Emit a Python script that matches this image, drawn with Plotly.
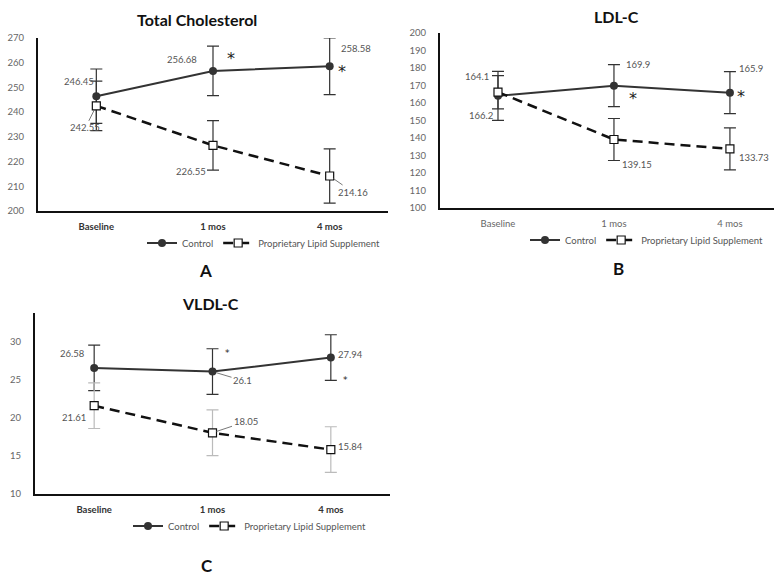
import plotly.graph_objects as go

# ---------------- data ----------------
categories = ["Baseline", "1 mos", "4 mos"]

tc_control = [246.45, 256.68, 258.58]
tc_control_err = [11, 10, 11.5]
tc_supp = [242.55, 226.55, 214.16]
tc_supp_err = [10, 10, 11]

ldl_control = [164.1, 169.9, 165.9]
ldl_control_err = [14, 12, 12]
ldl_supp = [166.2, 139.15, 133.73]
ldl_supp_err = [9.5, 12, 12]

vldl_control = [26.58, 26.1, 27.94]
vldl_control_err = [3, 3, 3]
vldl_supp = [21.61, 18.05, 15.84]
vldl_supp_err = [3, 3, 3]

series_names = ["Control", "Proprietary Lipid Supplement"]
panel_titles = ["Total Cholesterol", "LDL-C", "VLDL-C"]
panel_letters = ["A", "B", "C"]

W, H = 774, 576
FONT = "Lato"
DARK = "#333333"

fig = go.Figure()

panels = [
    ("", "legend", tc_control, tc_control_err, tc_supp, tc_supp_err, "#333333"),
    ("2", "legend2", ldl_control, ldl_control_err, ldl_supp, ldl_supp_err, "#333333"),
    ("3", "legend3", vldl_control, vldl_control_err, vldl_supp, vldl_supp_err, "#bbbbbb"),
]

for suf, leg, c, ce, s, se, supp_err_color in panels:
    fig.add_trace(go.Scatter(
        x=categories, y=c, name=series_names[0], mode="lines+markers",
        xaxis="x" + suf, yaxis="y" + suf, legend=leg,
        line=dict(color=DARK, width=2),
        marker=dict(symbol="circle", size=8, color=DARK),
        error_y=dict(type="data", array=ce, visible=True, color=DARK, thickness=1.2, width=6),
    ))
    fig.add_trace(go.Scatter(
        x=categories, y=s, name=series_names[1], mode="lines+markers",
        xaxis="x" + suf, yaxis="y" + suf, legend=leg,
        line=dict(color="#111111", width=2.5, dash="10px,6px"),
        marker=dict(symbol="square", size=8, color="white", line=dict(color="#111111", width=1.2)),
        error_y=dict(type="data", array=se, visible=True, color=supp_err_color, thickness=1.2, width=6),
    ))

def px_x(p):
    return p / W

def px_y(p):
    return 1 - p / H

axis_common = dict(showline=True, linecolor="#111111", linewidth=2, showgrid=False,
                   zeroline=False, ticks="")
tick_y = dict(size=9.5, color="#666", family=FONT)

layout = dict(
    width=W, height=H, margin=dict(l=0, r=0, t=0, b=0, autoexpand=False),
    paper_bgcolor="white", plot_bgcolor="white",
    font=dict(family=FONT, color=DARK),
    xaxis=dict(domain=[px_x(38), px_x(388)], anchor="y", type="category", range=[-0.5, 2.5],
               tickfont=dict(size=9.5, color="#333", family=FONT, weight="bold"),
               ticklabelstandoff=6, **axis_common),
    yaxis=dict(domain=[px_y(211), px_y(38)], anchor="x", range=[200, 270], dtick=10,
               tickfont=tick_y, ticklabelstandoff=10, **axis_common),
    xaxis2=dict(domain=[px_x(440), 1.0], anchor="y2", type="category", range=[-0.5, 2.38],
                tickfont=dict(size=9.5, color="#666", family=FONT), ticklabelstandoff=6,
                **axis_common),
    yaxis2=dict(domain=[px_y(208), px_y(33)], anchor="x2", range=[100, 200], dtick=10,
                tickfont=tick_y, ticklabelstandoff=10, **axis_common),
    xaxis3=dict(domain=[px_x(35), px_x(390)], anchor="y3", type="category", range=[-0.5, 2.5],
                tickfont=dict(size=9.5, color="#333", family=FONT, weight="bold"),
                ticklabelstandoff=6, **axis_common),
    yaxis3=dict(domain=[px_y(494), px_y(313)], anchor="x3", range=[10, 33.8], dtick=5,
                tickfont=tick_y, ticklabelstandoff=10, **axis_common),
)

leg_common = dict(orientation="h", xanchor="left", yanchor="middle", bgcolor="rgba(0,0,0,0)",
                  font=dict(size=9.5, color="#555", family=FONT), itemwidth=30, tracegroupgap=0)
layout["legend"] = dict(x=px_x(142), y=px_y(243), **leg_common)
layout["legend2"] = dict(x=px_x(525), y=px_y(240), **leg_common)
layout["legend3"] = dict(x=px_x(128), y=px_y(526), **leg_common)

fig.update_layout(**layout)

# ---------------- titles / letters ----------------
title_pos = [(197, 20), (616, 17), (210, 303)]
for t, (x, y) in zip(panel_titles, title_pos):
    fig.add_annotation(text="<b>%s</b>" % t, xref="paper", yref="paper", x=px_x(x), y=px_y(y),
                       xanchor="center", yanchor="middle", showarrow=False,
                       font=dict(size=16, color="#111", family=FONT))
letter_pos = [(205, 270), (618, 268), (207, 565)]
for t, (x, y) in zip(panel_letters, letter_pos):
    fig.add_annotation(text="<b>%s</b>" % t, xref="paper", yref="paper", x=px_x(x), y=px_y(y),
                       xanchor="center", yanchor="middle", showarrow=False,
                       font=dict(size=17, color="#111", family=FONT))

# ---------------- data labels ----------------
# (axis suffix, values, index, dx, dy, leader)
label_specs = [
    ("", tc_control, 0, -17, -15, False),
    ("", tc_supp, 0, -11, 22, True),
    ("", tc_control, 1, -31, -11, False),
    ("", tc_control, 2, 26, -18, False),
    ("", tc_supp, 1, -22, 26, False),
    ("", tc_supp, 2, 23, 16, True),
    ("2", ldl_control, 0, -21, -19, False),
    ("2", ldl_supp, 0, -17, 23, False),
    ("2", ldl_control, 1, 24, -21, False),
    ("2", ldl_control, 2, 21, -24, False),
    ("2", ldl_supp, 1, 23, 25, False),
    ("2", ldl_supp, 2, 24, 9, False),
    ("3", vldl_control, 0, -22, -14, False),
    ("3", vldl_control, 1, 30, 9, True),
    ("3", vldl_control, 2, 20, -3, False),
    ("3", vldl_supp, 0, -20, 12, False),
    ("3", vldl_supp, 1, 33, -11, True),
    ("3", vldl_supp, 2, 20, -3, False),
]
for suf, vals, i, dx, dy, leader in label_specs:
    common = dict(text=str(vals[i]), xref="x" + suf, yref="y" + suf, x=categories[i], y=vals[i],
                  font=dict(size=9.5, color="#555", family=FONT))
    if leader:
        fig.add_annotation(showarrow=True, ax=dx, ay=dy, arrowhead=0, arrowwidth=0.8,
                           arrowcolor="#555", standoff=4, **common)
    else:
        fig.add_annotation(showarrow=False, xshift=dx, yshift=-dy, **common)

# significance stars: (axis suffix, values, index, dx, dy, size)
star_specs = [
    ("", tc_control, 1, 18, -12, 16),
    ("", tc_control, 2, 12, 5, 16),
    ("2", ldl_control, 1, 19, 13, 16),
    ("2", ldl_control, 2, 11, 4, 16),
    ("3", vldl_control, 1, 15, -19, 9),
    ("3", vldl_control, 2, 15, 22, 9),
]
for suf, vals, i, dx, dy, sz in star_specs:
    fig.add_annotation(text="*", xref="x" + suf, yref="y" + suf, x=categories[i], y=vals[i],
                       showarrow=False, xshift=dx, yshift=-dy,
                       font=dict(size=sz, color="#222", family="DejaVu Sans"))

fig.write_html("out.html", config={"displayModeBar": False},
               post_script="document.body.style.margin='0px';")
